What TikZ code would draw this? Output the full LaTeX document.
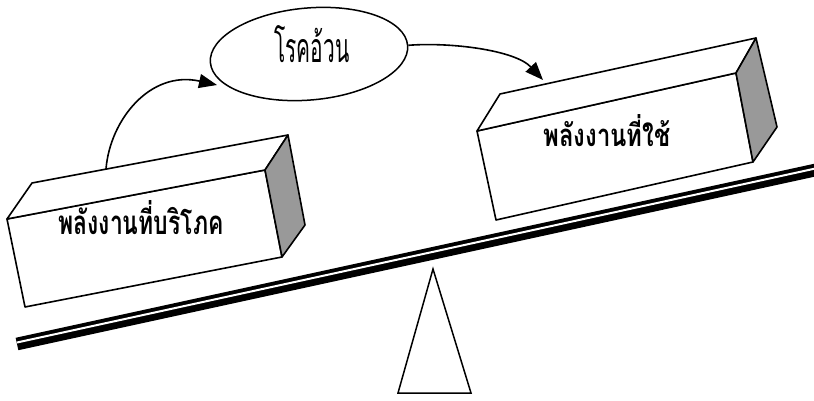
\documentclass[tikz,border=0pt]{standalone}
\usepackage{fontspec}
\usepackage{graphicx}
\newfontfamily\thaifont[Script=Thai]{Loma}
\usetikzlibrary{shapes.geometric,arrows.meta}
\begin{document}
\begin{tikzpicture}[x=1pt,y=-1pt,>={Triangle[length=18pt,width=14pt]},
		boxface/.style={draw,line width=1.6pt,line join=round,fill=white},
		boxside/.style={boxface,fill=black!40},
		boxtext/.style={font=\thaifont\bfseries,inner sep=0pt,anchor=base}]
	\useasboundingbox (0,0) rectangle (814,401);
	% lever and fulcrum
	\draw[line width=12.7pt] (17,344) -- (820,169);
	\draw[white,line width=2pt,yshift=1.5pt] (17,344) -- (820,169);
	\draw[line width=1.5pt,line join=miter] (433,269) -- (471,393) -- (398,393) -- cycle;
	% left block
	\draw[boxface] (7,219) -- (265,170) -- (282,257) -- (25,307) -- cycle;
	\draw[boxface] (7,219) -- (32,183) -- (288,135) -- (265,170) -- cycle;
	\draw[boxside] (265,170) -- (288,135) -- (305,225) -- (282,257) -- cycle;
	\node[boxtext] (intake) at (141,234) {\resizebox{165pt}{34pt}{พลังงานที่บริโภค}};
	% right block
	\draw[boxface] (477,131) -- (736,73) -- (753,162) -- (496,220) -- cycle;
	\draw[boxface] (477,131) -- (500,94) -- (756,38) -- (736,73) -- cycle;
	\draw[boxside] (736,73) -- (756,38) -- (777,127) -- (753,162) -- cycle;
	\node[boxtext] (output) at (607,147) {\resizebox{127pt}{32pt}{พลังงานที่ใช้}};
	% obesity
	\node[draw,ellipse,line width=1.5pt,rotate=5,minimum width=198pt,minimum height=92pt] (obese) at (309,54) {};
	\node[boxtext,font=\thaifont] (obesetext) at (312,63) {\resizebox{75pt}{37pt}{โรคอ้วน}};
	\path (106,169) coordinate (up) (217,85) coordinate (uptip) (543,80) coordinate (downtip);
	\draw[->,line width=1.6pt] (up) .. controls (110,120) and (150,70) .. (uptip);
	\draw[->,line width=1.6pt] (obese.east) .. controls (450,42) and (515,50) .. (downtip);
\end{tikzpicture}
\end{document}
